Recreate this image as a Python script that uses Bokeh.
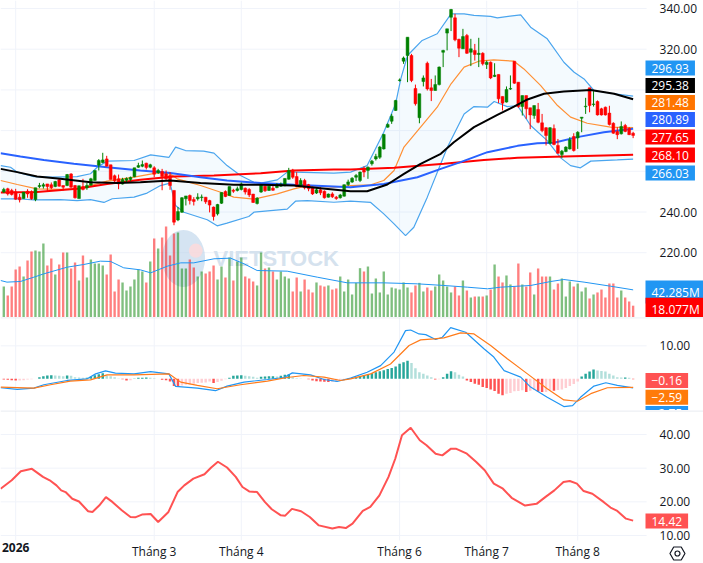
from bokeh.plotting import figure
from bokeh.layouts import column
from bokeh.models import Range1d, LinearAxis, FixedTicker, Label, Span, NumeralTickFormatter
from bokeh.embed import file_html
from bokeh.resources import INLINE

FONT = "Open Sans"
open_ = [249.8,251.4,250.6,249.9,247.3,246.6,250.2,249.9,246.1,252.5,
252.7,253.8,253.4,252.5,255.8,253,253,258.7,253,246.6,
252.5,251.9,253.2,255.5,263,264.3,266.1,263.2,257.8,256.3,
253.7,255.6,256,257.3,262,262.5,264,262,261.7,259.4,
259.9,258.7,257.9,250.6,236.1,239.9,246.5,248.1,246.1,246.5,
247.1,247.3,245.6,242.4,239.1,244.3,250.1,248.1,250.7,250.6,
251.1,251.7,251.1,248.8,244.2,249.8,252.7,250.6,251.7,252,
252.7,252.9,256.1,260.6,257.4,252.9,255.5,253.4,252.2,249.3,
250.9,250.2,247.3,248.9,247.3,247,247.8,253.5,
254.7,257.1,255.5,261.5,260.4,263.7,266.1,266.9,271,281.7,
284.6,289.9,304.6,314.1,316.9,316.9,300.7,286.3,304.1,313.1,
301,299.7,302.6,318.5,327.9,335.7,335.4,324.9,320.2,326.7,
318.5,319.4,317.4,318,312.5,313.6,306.6,307.6,296.8,294,
300.4,314.1,303.8,291.8,297.2,291.2,287.4,290.4,283.8,281.4,
273.8,281,272.7,268.2,269.7,271,277.1,276.4,286.1,291.7,
301,292.8,294.3,290.7,291.5,288.6,283.6,279.5,278.4,282.5,
281,278.7]
high = [251.9,251.9,251.4,251.4,248.9,249.8,251.2,250.6,251.9,254.3,
254.3,253.8,254.5,255.3,256.6,253,258.7,259.1,253.3,252.9,
256.3,254.3,256.8,260.4,266,269.1,267.6,263.2,258.4,258.4,
256.8,257,257.4,261.7,264.2,265.3,264.2,263.7,262.5,261.2,
261.2,260.4,259.6,250.6,242.4,247.3,247.9,248.6,247.3,249.2,
248.6,247.3,246,242.7,244,249.6,250.6,252.5,251.4,252.5,
254.5,252,251.7,248.9,247.3,253.5,253,252.9,253,254.2,
254.5,256.6,261.7,261.2,259.6,256.6,256.3,253.8,252.5,251.7,
252.2,250.6,249.1,249.7,247.9,248.9,253.5,255.9,
257.1,258.7,259.9,262.4,262.4,265.6,268.6,272.5,278.4,283.6,
288.2,295.1,305.6,316.4,325.9,317.7,302.6,298.1,307.1,313.9,
305.4,307.1,311.5,319.7,330,339.8,337.4,325.1,330,327.5,
325.1,322.6,325.6,318.5,314.4,314,313.1,307.6,296.8,301.7,
307.1,314.1,303.8,297.2,297.2,291.2,292.3,293.6,288.2,281.7,
281.7,283,275.9,270.5,272.3,276.8,278.7,279.7,286.6,296.1,
301,299.4,294.8,291.2,291.8,292.2,284.1,281.7,284.5,283.3,
281.7,279.4]
low = [249.3,248.1,248.1,246,244.7,246.6,247,246,245.3,251.7,
251.5,250,251.2,252.2,252.5,250.6,252.7,251.9,246.6,246.6,
250.6,250.9,253,255.5,260.4,264,262.4,256,254.7,251.2,
253.5,254.5,255.2,257.1,261.7,262,260.9,261.5,257.1,258.7,
250.7,255.5,250.9,233.5,235.5,239.6,243.2,243.7,243.2,245.6,
245.3,244,239.8,235.8,238.3,244,247.3,248.1,249.4,250.1,
250.6,248.6,247.3,244.5,243.7,249.4,249.9,250.4,250.4,251.7,
252.4,252.7,255.9,256.3,252.2,252.5,251.1,250.2,248.4,248.9,
248.3,246.6,247.1,246.9,246,246.6,247.6,252.8,
254.3,255.2,254.7,257.1,256.3,262.8,265.3,266.1,270.7,281.4,
283.3,289.7,304.1,312.8,303.8,303.8,292.3,283.6,301.7,299.7,
294.5,299.7,302.2,311.2,319.4,328.9,323.9,316.1,320.2,317.7,
311.7,314.4,311.2,312,310.3,305.3,306.3,293.5,289.9,293.8,
300,303,291.2,287.4,285.8,280.7,285.8,283.6,279.2,272.7,
273.2,272.8,268.6,266.6,269.4,270.7,269.7,271,279.2,288.2,
289,291.8,287.4,287.4,287.4,282.5,278.4,275.8,278.1,279.2,
277.8,276.3]
close = [251.1,248.9,248.6,246.3,246,249.8,248.9,246.5,251.9,253,
253.4,252.5,251.9,255,252.7,252.2,258.4,252.2,247,252.9,
251.1,253,256.3,260.4,265.3,265.6,262.5,256,255.3,253.8,
256,256.5,257,261.7,262.8,263.3,261.9,263.2,258.6,260.4,
257.4,256.3,253,235,240.2,247,247.9,245.6,245.2,247.3,
247.4,245,243.4,237.8,243.7,249.6,247.6,252.5,250.2,251.4,
253.8,249.8,248.4,244.7,246.8,253.4,250.4,252.7,250.7,253.4,
253.7,256.5,260.4,257.1,252.5,255.5,251.9,251.4,248.9,250.9,
249.4,247,248.8,247.5,246.6,248.4,253.4,254.8,
256.6,257.9,259.6,259.6,262,265,267.3,271.9,278.1,283,
287.1,294.8,304.9,315.7,325.9,304.6,293.2,298.1,305.9,300.5,
299.7,302.6,311.2,319.4,330,339.5,324.6,320.5,326.2,318,
320.2,317.4,318,312.8,313.6,305.9,307.2,295.6,293.5,300.2,
300.7,303.3,291.8,297.2,290.7,287.7,292.3,284.1,280,277.6,
281.4,273.2,268.9,269.9,271.9,275.5,270.2,279.2,286.6,292,
292.3,293.1,287.7,287.7,287.7,283,278.7,278,282,279.6,
278,277.65]
volume = [47.4,33.7,47.4,73.4,78,62.7,87.2,101,102.5,101,
113.2,79.6,90.3,65.8,81.1,99.5,99.5,75,84.2,56.6,
94.9,61.2,88.7,82.6,82.6,79.6,65.8,96.4,39.8,58.1,
53.6,41.3,47.4,58.1,73.4,70.4,53.6,85.7,120.9,105.6,
122.4,139.2,94.9,128.5,130,75,75,88.7,76.5,62.7,
70.4,67.3,70.4,79.6,58.1,78,61.2,91.8,56.6,85.7,
91.8,62.7,59.7,55.1,49,99.5,75,76.5,70.4,58.1,
70.4,62.7,59.7,39.8,61.2,39.8,58.1,42.8,38.3,53.6,
49,47.4,49,42.8,44.4,62.7,39.8,58.1,
35.2,53,75.5,70.4,78,36.7,59.7,38.3,70.4,35.2,
45.9,44.4,42.8,53.6,45.9,38.3,49,53,39.8,45.9,
41.3,47.4,65.8,56.6,47.4,38.3,47.4,33.7,56.6,41.3,
30.6,32.1,32.1,32.1,33.7,42.8,81.1,62.7,53.6,64.3,
50.5,47.4,82.6,50.5,47.4,68.9,35.2,75,62.7,62.7,
62.7,42.8,52,59.7,32.1,55.1,47.4,52,39.8,45.9,
29.1,35.2,38.3,42.8,30.6,52,52,30.6,41.3,30.6,
24.5,18.077]
hist = [-0.2,-0.3,-0.4,-0.5,-0.5,-0.4,-0.2,-0.1,0.05,
0.5,0.8,1.0,1.1,1.0,0.9,0.8,1.0,0.9,0.5,
0.4,0.3,0.3,0.6,1.1,1.4,1.7,1.0,0.8,0.5,
0.1,-0.1,-0.5,-0.4,0.1,0.3,0.3,0.4,0.3,0.2,
0,-0.3,-0.4,-0.8,-2.2,-2.4,-2.0,-1.8,-1.7,-1.5,
-1.3,-1.2,-1.1,-0.8,-1.3,-1.0,-0.6,-0.1,0.3,0.9,
1.0,1.1,0.9,0.8,0.6,0.3,0.6,0.7,0.8,0.8,
0.7,0.9,1.2,1.4,0.5,0.2,0.1,0.0,-0.1,-0.5,
-0.7,-0.8,-0.9,-1,-1,-1,-0.5,-0.3,0.1,
.2,.5,.8,1.1,1.3,1.7,2,2.3,2.6,3,
3.3,3.7,4.6,5,5.5,4.8,3.2,2,1.5,1,
.5,-.2,-.1,.5,1.5,2.3,2,1.2,.7,-.5,
-1,-1.5,-1.8,-2.5,-2.8,-3.2,-3.7,-4.5,-5,-4.5,
-4.3,-3.8,-3.7,-3.5,-4.0,-3.6,-3.4,-3.9,-4.0,-4.0,
-3.5,-3.6,-3.4,-3.2,-2.8,-2.2,-1.6,-.8,.7,1.5,
2.2,2.8,2.5,2.4,2.2,1.5,1,.5,.4,.4,.3,-.16]

bb_upper_x = [-0.8,1.7,3.4,7.6,11.8,18.5,21.9,23.6,26.1,32.9,37.1,41.7,43.4,45.9,50.5,53.1,56.4,59.8,63.2,64.9,69.1,71.6,73.3,83.4,87.6,91.8,96,99,100.3,102,105.7,109.5,113,116.3,118.8,123,124.7,130.6,133.1,137.3,141.5,144.1,146.6,149.1,154.2,159]
bb_upper_y = [262.8,262,259.6,257.4,257.1,257.4,258.8,262,265,265.3,268.1,266.8,271.9,270.2,269.9,268.9,262.8,257.9,254.6,254.2,255.8,259.6,259.6,259.1,259.6,262.8,279.2,293.2,305.4,316.9,324.3,327.6,337.4,337.4,336.6,336.1,335.4,336.9,330.8,325.1,313.6,308.7,305.4,299.7,298.1,296.93]
bb_lower_x = [-0.8,3.4,7.6,14.3,18.5,21.9,25.3,27.4,32.9,36.2,39.6,42,43.4,45.5,51.4,53.9,56.4,61.9,63.2,71.6,73.7,76.7,83.4,87.6,92.7,96,98.6,101.5,103.6,107,112.1,116.3,118.8,122.2,123.9,127.2,129.8,133.1,137.3,140.7,143.2,145.7,148.3,155,159]
bb_lower_y = [246.5,246.5,246,246.1,245.6,246.1,244.7,246.5,247.3,249.3,253,254.2,243.2,239.9,236.2,233.2,234.5,237.8,239.9,241.4,245.3,245.6,244.8,245.3,244.7,239.1,234.2,228.4,232.5,247.3,271.9,288.2,291.8,291.5,294.3,291.8,292.3,282.5,275.1,266.6,262.8,261.7,265,265.6,266.03]
bb_mid_x = [-0.8,3.4,8.4,14.3,18.5,21.9,26.1,32.9,38.8,42.1,43.8,49.7,54.8,58.1,63.2,69.1,73.3,76.7,83.4,87.6,92.7,96,98.6,101.1,105.3,109.5,113,116.3,120,123.8,128.9,131.4,135.6,139.9,143.2,147.4,153.3,159]
bb_mid_y = [255.5,253.5,251.4,251.1,251.4,253,255.2,257.1,259.2,258.7,256.3,253,249.7,247.3,246.3,248.9,251.4,253,252.2,253,253.4,255.5,260.4,271.9,281.7,291.5,303,311.2,314.1,314.8,314.1,310.3,302.2,292.3,286.6,283.6,281.7,281.48]
ma_black_x = [-0.8,3.4,8.4,14.3,21.9,28.6,34.5,42.1,49.7,58.1,64.9,73.3,80,87.6,91.8,96.9,101.1,105.3,110.4,113.7,118.8,124.7,128.9,132.3,136.5,141.5,148.3,154.2,159]
ma_black_y = [261.2,259.6,257.4,256.3,254.6,254.3,254.6,255.5,254.2,253.4,253.4,253,251.7,250.2,250.2,253.5,258.7,263.7,268.6,274.3,281.7,287.7,291.8,295.3,298.1,299.2,300,298.1,295.38]
ma_blue_x = [-0.8,4.2,10.1,17.7,26.1,34.5,42.1,49.7,56.4,64.9,73.3,87.6,96,104.5,110.4,115.4,122.2,129.8,134.8,139,144.9,151.6,159]
ma_blue_y = [268.9,267.3,265.6,263.7,262,260.4,259.2,257.1,255.5,254.2,253.4,252.2,253.8,257.1,261.2,264.5,269.4,272.5,273.8,274,276.8,279.2,280.89]
ma_red_x = [-0.8,8.4,18.5,26.1,34.5,43,53.1,64.9,73.3,83.4,87.6,98.6,111.2,121.3,129.8,141.5,151.6,159]
ma_red_y = [249.6,249.8,251.4,253.8,255.8,257.4,257.9,259.1,260.4,260.9,260.9,261.7,263.7,265.6,266.6,267.3,267.8,268.10]
vol_ma_x = [-0.8,0.8,4.2,7.6,10.1,16,20.2,24.4,27,30.3,34.5,37.1,41.3,44.7,48,53.1,57.3,60.7,64,71.6,79.2,86.8,96,104.5,111.2,117.1,122.2,125.5,133.1,138.2,141.5,146.6,153.3,159]
vol_ma_y = [56.6,54.1,55.1,61.7,66.8,77,81.1,86.2,85.7,76,72.9,68.3,78.5,83.6,83.6,89.8,90.8,82.1,71.9,70.9,61.7,53,53,51.5,49,46.4,43.9,46.4,49,55.1,58.1,54.1,47.9,42.285]
macd_x = [-0.8,3.4,7.6,10.1,16,21.1,23.2,25.7,28.2,32.9,37.1,41.7,43.4,48.9,53.5,56.4,60.7,66.6,70.8,72.9,77.5,80.9,84.2,87.6,91.8,95.2,98.6,101.5,102.8,104.9,106.6,109.1,110.8,112.9,116.7,121.3,123.8,126.4,130.6,133.1,137.3,141.5,143.7,145.7,149.1,152.1,155,159]
macd_y = [-2.7,-3.2,-2.8,-1.8,-0.5,0,1.5,2.4,1.7,1.5,2.2,1.5,-2.3,-2.8,-3.6,-2.2,-1,-0.2,0.4,1.8,1.2,-0.2,-0.8,0.2,2,4,8.1,14.6,14.8,13.6,13.4,11.9,12.6,15.5,14.1,9.1,6.6,2.5,0.5,-2.5,-5.6,-8.4,-8.1,-5.6,-2.2,-1.2,-2,-2.75]
signal_x = [-0.8,7.6,11.8,16.8,21.9,26.1,32.9,41.7,44.7,48.9,53.9,59.8,66.6,71.6,75.8,80.9,85.1,87.6,92.7,97.7,102.4,105.3,108.7,111.2,115.4,118.8,123,127.2,132.3,137.3,141.5,144.9,148.3,152.5,159]
signal_y = [-2.5,-2.8,-1.8,-0.7,-0.3,1.2,1.2,1.5,-1,-2,-3,-1.8,-0.7,0.4,1,0.5,-0.5,0,1.5,4.5,10.1,11.8,12.1,12.4,13.9,13.6,10.1,6.1,1.5,-3,-6.4,-6.8,-4.5,-2.7,-2.59]
rsi_x = [-0.8,2,4.3,7.1,9.9,11.6,13.3,14.5,15.6,17.3,19,21.3,22.4,24.1,25.8,27.5,29.8,32,33.2,34.9,37.1,39,41.6,43.9,45.6,47.9,50.7,52.4,54.1,56.4,58.6,60.3,62,64,66,67.7,70,71.1,72.8,75.1,77.3,79.6,83,84.7,86.4,88.1,90.7,92.6,94.9,97.2,98.9,100.6,102.8,105.1,106.8,109.1,110.8,113,114.2,117,119.3,121.5,123.8,126.1,128.3,131.7,134.6,136.8,139.1,141.4,143,144.8,146.5,148.7,151.6,153.3,155,157.2,159]
rsi_y = [23.9,26.4,29.1,29.8,27.4,26.4,24.9,23.4,22.9,20.9,20.1,17.2,17,18.9,21.4,19.9,17.5,15.5,15.4,16.2,16.4,14,17,22.9,24.9,26.9,28.2,30.2,31.9,30.2,27.4,24.4,23.1,22.9,19.9,17.8,16,15.9,17.9,17.2,15.5,13,12.1,12.5,12.2,13.5,17.3,18.5,21.9,27.4,32.8,39.8,42,38.3,36.8,34.3,33.8,35.8,35.8,34.3,31.9,29.4,25.4,23.9,21.2,18.9,19.4,21.4,23.4,25.9,26.2,25.4,23.2,22.4,19.9,18.3,17.3,15,14.42]
year_tick = [3]
month_ticks = [38, 60, 100, 122, 145]
month_labels = ["Tháng 3", "Tháng 4", "Tháng 6", "Tháng 7", "Tháng 8"]
price_grid = [340, 320, 300, 280, 260, 240, 220]
price_ticks = [340, 320, 240, 220]
macd_ticks = [10]
rsi_ticks = [10, 20, 30, 40]

n = len(close)
assert all(len(a) == n for a in (open_, high, low, volume, hist)), [len(a) for a in (open_, high, low, close, volume, hist)]
xs = list(range(n))
UP, DOWN = "#008000", "#ff0000"
cols = [UP if c >= o else DOWN for o, c in zip(open_, close)]
GRID = "#f0f3fa"
WIDTH = 703
TEXT = "#131722"
X_START, X_END, X_AXIS = -0.834, 176.78, 162.4
x_range = Range1d(X_START, X_END)


def pane(height, y0, y1, ticks, grid_ticks, grid_bottom=None):
    p = figure(width=WIDTH, height=height, x_range=x_range, y_range=Range1d(y0, y1),
               x_axis_location=None, y_axis_location=None, output_backend="svg", toolbar_location=None,
               min_border=0, background_fill_color="white", border_fill_color="white", outline_line_color=None)
    p.grid.visible = False
    gb = y0 if grid_bottom is None else grid_bottom
    allx = year_tick + month_ticks
    p.segment(allx, [gb] * len(allx), allx, [y1] * len(allx), line_color=GRID, line_width=1, level="underlay")
    p.segment([X_START] * len(grid_ticks), grid_ticks, [X_AXIS] * len(grid_ticks), grid_ticks,
              line_color=GRID, line_width=1, level="underlay")
    ax = LinearAxis(fixed_location=X_AXIS, ticker=FixedTicker(ticks=ticks), formatter=NumeralTickFormatter(format="0.00"),
                    axis_line_color=None, major_tick_line_color=None, minor_tick_line_color=None,
                    major_label_standoff=7, major_label_text_font=FONT, major_label_text_font_size="12px",
                    major_label_text_color=TEXT)
    p.add_layout(ax, "right")
    return p


def tag(p, frame_bottom, center, text, color, pad=6):
    p.add_layout(Label(x=645, y=frame_bottom - center, x_units="screen", y_units="screen",
                       text=text, text_color="white", text_font=FONT, text_font_size="12px",
                       text_align="left", text_baseline="middle", background_fill_color=color,
                       padding=(pad, 3)))


# ---- price + volume
p1 = pane(317, 188.16, 343.93, price_ticks, price_grid)
p1.extra_y_ranges = {"vol": Range1d(0, 485)}
# watermark
p1.ellipse([45.4], [217.2], width=10.9, height=28, fill_color="#b9d2e9", fill_alpha=0.6, line_color=None, level="underlay")
p1.ellipse([48.5], [221], width=3.5, height=7, fill_color="#ffd9d9", fill_alpha=0.8, line_color=None, level="underlay")
p1.add_layout(Label(x=213, y=59, x_units="screen", y_units="screen", text="VIETSTOCK", text_color="#d5e2ee",
                    text_font="Liberation Sans", text_font_style="bold", text_font_size="22px", text_baseline="middle",
                    level="underlay"))
p1.vbar(x=xs, top=volume, bottom=0, width=0.6, fill_color=cols, fill_alpha=0.5, line_color=None, y_range_name="vol")
p1.line(vol_ma_x, vol_ma_y, line_color="#2196f3", line_width=1, y_range_name="vol")
p1.patch(bb_upper_x + bb_lower_x[::-1], bb_upper_y + bb_lower_y[::-1], fill_color="#2196f3", fill_alpha=0.05, line_color=None)
p1.line(bb_upper_x, bb_upper_y, line_color="#4aa5ee", line_width=1.2)
p1.line(bb_lower_x, bb_lower_y, line_color="#4aa5ee", line_width=1.2)
p1.line(bb_mid_x, bb_mid_y, line_color="#ff9035", line_width=1.2)
p1.line(ma_red_x, ma_red_y, line_color="#ff0000", line_width=2)
p1.line(ma_blue_x, ma_blue_y, line_color="#2962ff", line_width=2)
p1.segment(xs, low, xs, high, line_color=cols, line_width=1)
p1.vbar(x=xs, top=[max(a, b) for a, b in zip(open_, close)], bottom=[min(a, b) for a, b in zip(open_, close)],
        width=0.72, fill_color=cols, line_color=cols, line_width=0.5)
p1.line(ma_black_x, ma_black_y, line_color="#000000", line_width=2)
for c, t, col in [(67.5, "296.93", "#2196f3"), (85, "295.38", "#000000"), (102, "281.48", "#ff7400"),
                  (119, "280.89", "#2962ff"), (136.5, "277.65", "#ff0000"), (154.5, "268.10", "#ff0000"),
                  (172.5, "266.03", "#2196f3"), (291.5, "42.285M", "#2196f3"), (308.7, "18.077M", "#ff0000")]:
    tag(p1, 317, c, t, col)

# ---- MACD
p2 = pane(93, -9.6, 18.58, macd_ticks, macd_ticks)
hcols = []
prev = 0.0
for h in hist:
    if h >= 0:
        hcols.append("#26a69a" if h >= prev else "#b2dfdb")
    else:
        hcols.append("#ff5252" if h < prev else "#ffcdd2")
    prev = h
p2.vbar(x=xs, top=hist, bottom=0, width=0.62, fill_color=hcols, line_color=None)
p2.line(macd_x, macd_y, line_color="#2196f3", line_width=1.2)
p2.line(signal_x, signal_y, line_color="#ff7b1a", line_width=1.2)
p2.add_layout(Span(location=18.5, dimension="width", line_color="#e0e3eb", line_width=1))
for c, t, col in [(380, "\u22120.16", "#ff5252"), (396.7, "\u22122.59", "#ff7b0a"), (413, "\u22122.75", "#2196f3")]:
    tag(p2, 410, c, t, col)

# ---- RSI
RSI_BOTTOM = 8.5
p3 = pane(153, 1.68, 47.13, rsi_ticks, rsi_ticks, grid_bottom=RSI_BOTTOM)
p3.add_layout(Span(location=47.0, dimension="width", line_color="#e0e3eb", line_width=1))
common = dict(fixed_location=10.6, axis_line_color=None, major_tick_line_color=None, minor_tick_line_color=None,
              major_label_standoff=4, major_label_text_font=FONT, major_label_text_font_size="12px",
              major_label_text_color=TEXT)
xa = LinearAxis(ticker=FixedTicker(ticks=month_ticks), major_label_overrides=dict(zip(month_ticks, month_labels)), **common)
xb = LinearAxis(ticker=FixedTicker(ticks=year_tick), major_label_overrides={3: "2026"}, major_label_text_font_style="bold", **common)
p3.add_layout(xa, "below")
p3.add_layout(xb, "below")
p3.line(rsi_x, rsi_y, line_color="#ff5252", line_width=2)
tag(p3, 563, 520.5, "14.42", "#ff5252")
# settings icon of the chart
p3.scatter([170.2], [4.65], marker="hex", size=15, fill_color=None, line_color=TEXT, line_width=1.2)
p3.scatter([170.2], [4.65], marker="circle", size=5, fill_color=None, line_color=TEXT, line_width=1.2)

layout = column(p1, p2, p3, spacing=0)
open("out.html", "w").write(file_html(layout, INLINE))
